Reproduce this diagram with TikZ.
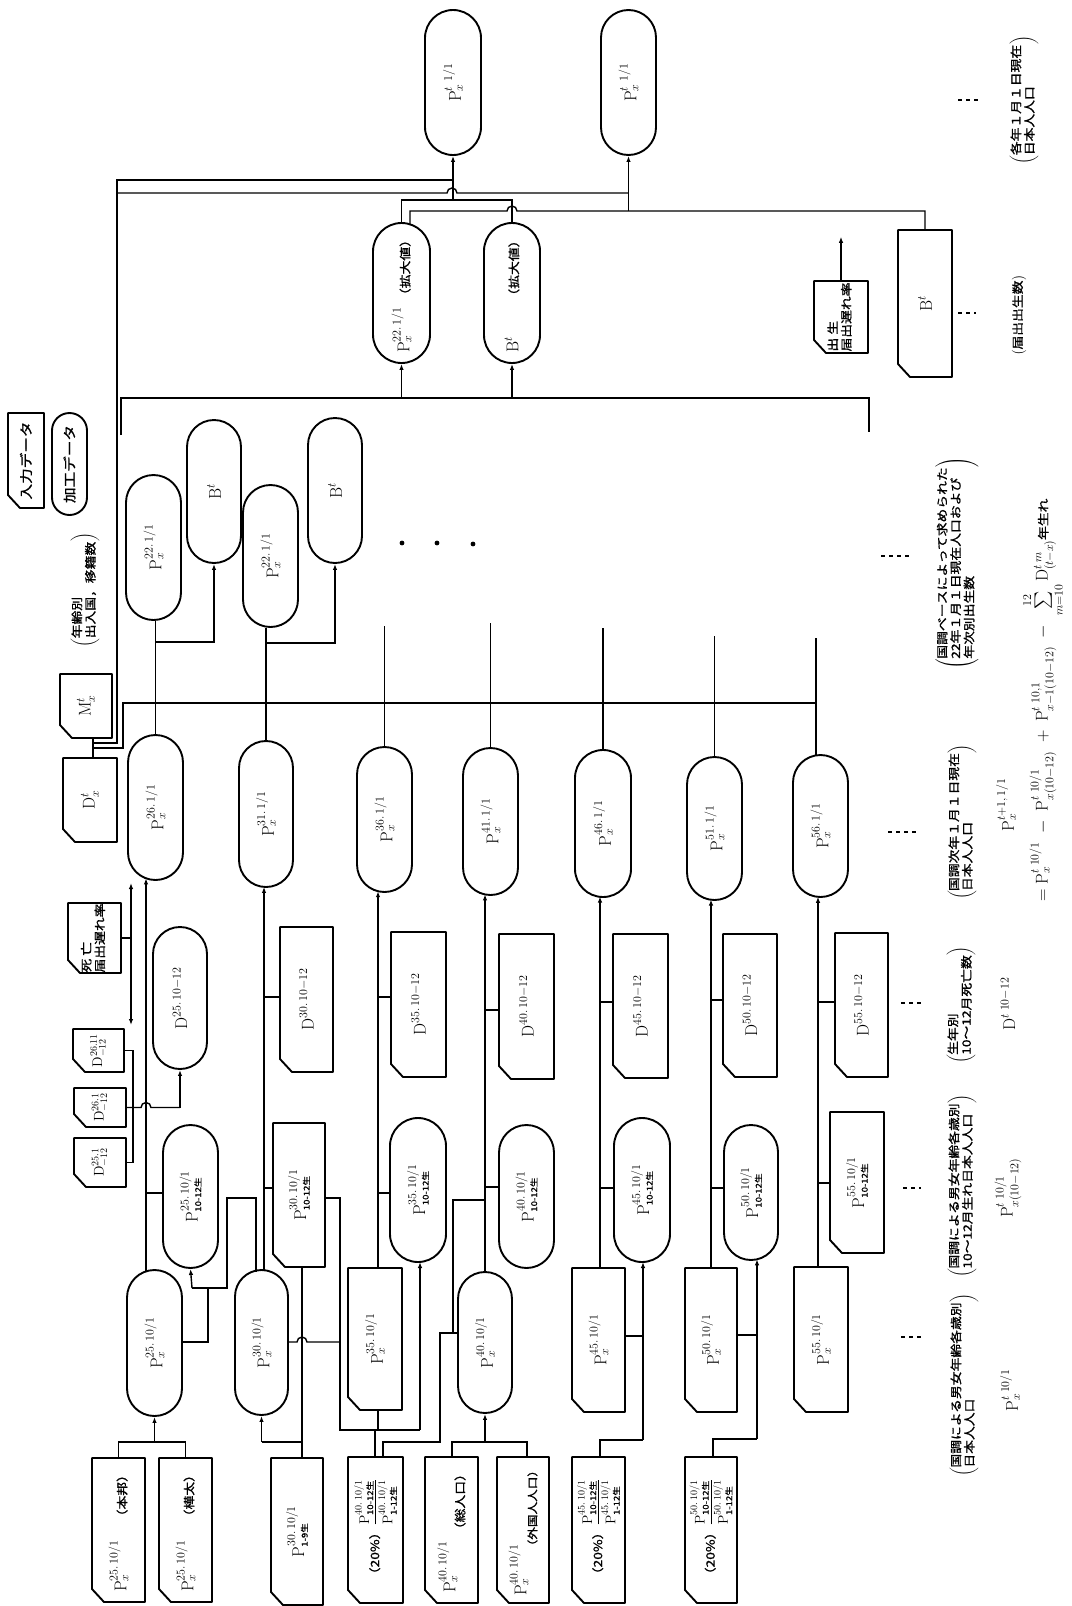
\documentclass[tikz,border=0pt]{standalone}
\usepackage{fontspec}
\usepackage{amsmath}
\usetikzlibrary{shapes.misc,arrows.meta}
\newfontfamily\jp[FakeStretch=1.2,FakeBold=1.2]{Noto Sans CJK JP}
\DeclareMathSizes{17}{17}{11.5}{8.5}
\DeclareMathSizes{14}{14}{10}{7.5}
\newcommand\jt[1]{{\jp\fontsize{11.5}{13}\selectfont #1}}
\newcommand\jl[1]{{\jp\fontsize{13}{15}\selectfont #1}}
\newcommand\js[1]{\mbox{\jp\fontsize{8}{9}\selectfont #1}}
\newcommand\capfont{\jp\fontsize{11.5}{12.5}\selectfont}
\newcommand\inbox[6]{%
  \node[minimum width={(#5-#3)*1pt}, minimum height={(#4-#2)*1pt}] (#1) at ({(#2+#4)/2},{(#3+#5)/2}) {#6};
  \draw[shp] (#2,#3) -- (#4,#3) -- (#4,#5) -- ({#2+12},#5) -- (#2,{#5-13}) -- cycle;}
\newcommand\procbox[6]{%
  \node[proc, minimum width={(#5-#3)*1pt}, minimum height={(#4-#2)*1pt}] (#1) at ({(#2+#4)/2},{(#3+#5)/2}) {#6};}
\begin{document}
\begin{tikzpicture}[x=1pt,y=-1pt,
  every node/.style={rotate=90, inner sep=0pt, font=\fontsize{17}{19}\selectfont},
  shp/.style={line width=1.9pt, line join=round},
  proc/.style={draw, rounded rectangle, line width=1.9pt},
  lin/.style={line width=1.4pt},
  arr/.style={line width=1.4pt, -{Latex[length=6pt,width=4.5pt]}},
  darr/.style={line width=1.4pt, {Latex[length=6pt,width=4.5pt]}-{Latex[length=6pt,width=4.5pt]}},
  dsh/.style={line width=1.5pt, dash pattern=on 4pt off 4pt},
]
\useasboundingbox (0,0) rectangle (1071,1606);

% ---------- legend ----------
\inbox{legin}{8}{413}{44}{508}{\jl{入力データ}}
\procbox{legproc}{52}{413}{87}{515}{\jl{加工データ}}

% ---------- top ----------
\procbox{ptopa}{425}{10}{481}{155}{P$^{t\;\,1/1}_{x}$}
\procbox{ptopb}{601}{10}{656}{155}{P$^{t\;\,1/1}_{x}$}
\procbox{pkx}{373}{223}{430}{363}{P$^{22.\,1/1}_{x}$\ \jt{（拡大値）}}
\procbox{bkx}{484}{223}{540}{363}{B$^{t}$\qquad\jt{（拡大値）}}
\inbox{blate}{814}{281}{868}{353}{\jp\fontsize{11.5}{13}\selectfont\begin{tabular}{@{}l@{}}出\ 生\\届出遅れ率\end{tabular}}
\inbox{bin}{898}{230}{952}{377}{B$^{t}$}

% ---------- left top ----------
\inbox{mt}{60}{674}{112}{738}{M$^{t}_{x}$}
\inbox{dt}{63}{758}{117}{842}{D$^{t}_{x}$}
\node (capmig) at (85,590) {\capfont$\left(\begin{tabular}{@{}l@{}}年齢別\\出入国，移籍数\end{tabular}\right)$};
\procbox{pa}{126}{475}{181}{620}{P$^{22.\,1/1}_{x}$}
\procbox{ba}{187}{420}{241}{563}{B$^{t}$}
\procbox{pc}{243}{485}{298}{627}{P$^{22.\,1/1}_{x}$}
\procbox{bc}{308}{418}{362}{563}{B$^{t}$}

% ---------- P t+1 row ----------
\procbox{pn25}{128}{735}{183}{880}{P$^{26.\,1/1}_{x}$}
\procbox{pn30}{239}{741}{293}{887}{P$^{31.\,1/1}_{x}$}
\procbox{pn35}{357}{747}{412}{892}{P$^{36.\,1/1}_{x}$}
\procbox{pn40}{463}{748}{518}{895}{P$^{41.\,1/1}_{x}$}
\procbox{pn45}{575}{750}{631}{897}{P$^{46.\,1/1}_{x}$}
\procbox{pn50}{687}{757}{742}{900}{P$^{51.\,1/1}_{x}$}
\procbox{pn55}{793}{755}{848}{897}{P$^{56.\,1/1}_{x}$}

% ---------- D row ----------
\inbox{dlate}{68}{903}{121}{973}{\jp\fontsize{11.5}{13}\selectfont\begin{tabular}{@{}l@{}}死\ 亡\\届出遅れ率\end{tabular}}
\procbox{d25}{153}{927}{207}{1069}{D$^{25.\,10-12}$}
\inbox{d30}{280}{927}{333}{1072}{D$^{30.\,10-12}$}
\inbox{d35}{391}{932}{446}{1077}{D$^{35.\,10-12}$}
\inbox{d40}{499}{934}{554}{1079}{D$^{40.\,10-12}$}
\inbox{d45}{613}{934}{668}{1078}{D$^{45.\,10-12}$}
\inbox{d50}{723}{934}{777}{1077}{D$^{50.\,10-12}$}
\inbox{d55}{835}{933}{888}{1077}{D$^{55.\,10-12}$}
\inbox{dda}{74}{1138}{126}{1187}{\fontsize{14}{15}\selectfont D$^{25.1}_{-12}$}
\inbox{ddb}{74}{1088}{126}{1127}{\fontsize{14}{15}\selectfont D$^{26.1}_{-12}$}
\inbox{ddc}{73}{1029}{124}{1072}{\fontsize{14}{15}\selectfont D$^{26.11}_{-12}$}

% ---------- 10-12 row ----------
\procbox{p25b}{163}{1125}{218}{1268}{P$^{25.\,10/1}_{\js{10-12生}}$}
\inbox{p30b}{273}{1123}{325}{1267}{P$^{30.\,10/1}_{\js{10-12生}}$}
\procbox{p35b}{390}{1118}{446}{1262}{P$^{35.\,10/1}_{\js{10-12生}}$}
\procbox{p40b}{499}{1125}{554}{1268}{P$^{40.\,10/1}_{\js{10-12生}}$}
\procbox{p45b}{614}{1118}{670}{1262}{P$^{45.\,10/1}_{\js{10-12生}}$}
\procbox{p50b}{724}{1125}{778}{1260}{P$^{50.\,10/1}_{\js{10-12生}}$}
\inbox{p55b}{830}{1112}{884}{1253}{P$^{55.\,10/1}_{\js{10-12生}}$}

% ---------- 10/1 row ----------
\procbox{p25}{127}{1270}{182}{1416}{P$^{25.\,10/1}_{x}$}
\procbox{p30}{235}{1270}{288}{1415}{P$^{30.\,10/1}_{x}$}
\inbox{p35}{348}{1268}{402}{1410}{P$^{35.\,10/1}_{x}$}
\procbox{p40}{458}{1272}{512}{1413}{P$^{40.\,10/1}_{x}$}
\inbox{p45}{572}{1268}{625}{1412}{P$^{45.\,10/1}_{x}$}
\inbox{p50}{685}{1268}{737}{1412}{P$^{50.\,10/1}_{x}$}
\inbox{p55}{794}{1267}{848}{1412}{P$^{55.\,10/1}_{x}$}

% ---------- bottom inputs ----------
\inbox{ina}{92}{1458}{145}{1602}{P$^{25.\,10/1}_{x}$\quad\jt{（本邦）}}
\inbox{inb}{159}{1458}{212}{1602}{P$^{25.\,10/1}_{x}$\quad\jt{（樺太）}}
\inbox{inc}{271}{1458}{323}{1605}{P$^{30.\,10/1}_{\js{1-9生}}$}
\inbox{fra}{348}{1457}{403}{1603}{\fontsize{14}{15}\selectfont\jt{（20\%）}$\dfrac{\mathrm{P}^{40.\,10/1}_{\js{10-12生}}}{\mathrm{P}^{40.\,10/1}_{\js{1-12生}}}$}
\inbox{ind}{425}{1457}{478}{1603}{P$^{40.\,10/1}_{x}$\ \raisebox{-9pt}{\jt{（総人口）}}}
\inbox{ine}{497}{1457}{549}{1603}{P$^{40.\,10/1}_{x}$\hspace{-8pt}\raisebox{-10pt}{\jp\fontsize{10.5}{12}\selectfont（外国人人口）}}
\inbox{frb}{572}{1457}{625}{1603}{\fontsize{14}{15}\selectfont\jt{（20\%）}$\dfrac{\mathrm{P}^{45.\,10/1}_{\js{10-12生}}}{\mathrm{P}^{45.\,10/1}_{\js{1-12生}}}$}
\inbox{frc}{685}{1457}{737}{1603}{\fontsize{14}{15}\selectfont\jt{（20\%）}$\dfrac{\mathrm{P}^{50.\,10/1}_{\js{10-12生}}}{\mathrm{P}^{50.\,10/1}_{\js{1-12生}}}$}

% ---------- captions ----------
\node (c1) at (1024,100) {\capfont$\left(\begin{tabular}{@{}l@{}}各年１月１日現在\\日本人人口\end{tabular}\right)$};
\node (c2) at (1019,315) {\capfont$\left(\begin{tabular}{@{}l@{}}届出出生数\end{tabular}\right)$};
\node (c3) at (957,563) {\capfont$\left(\begin{tabular}{@{}l@{}}国調ベースによって求められた\\22年１月１日現在人口および\\年次別出生数\end{tabular}\right)$};
\node (c4) at (962,822) {\capfont$\left(\begin{tabular}{@{}l@{}}国調次年１月１日現在\\日本人人口\end{tabular}\right)$};
\node (c5) at (961,1005) {\capfont$\left(\begin{tabular}{@{}l@{}}生年別\\10〜12月死亡数\end{tabular}\right)$};
\node (c6) at (962,1186) {\capfont$\left(\begin{tabular}{@{}l@{}}国調による男女年齢各歳別\\10〜12月生れ日本人人口\end{tabular}\right)$};
\node (c7) at (964,1385) {\capfont$\left(\begin{tabular}{@{}l@{}}国調による男女年齢各歳別\\日本人人口\end{tabular}\right)$};
\node (f1) at (1006,805) {P$^{t+1,\,1/1}_{x}$};
\node (f2) at (1043,700) {$=\mathrm{P}^{t\;10/1}_{x}\;-\;\mathrm{P}^{t\;10/1}_{x(10-12)}\;+\;\mathrm{P}^{t\;10,1}_{x-1(10-12)}\;-\;\sum\limits_{m=10}^{12}\mathrm{D}^{t\;m}_{(t-x)}$\jt{年生れ}};
\node (f3) at (1008,1004) {D$^{t\;10-12}$};
\node (f4) at (1008,1188) {P$^{t\;10/1}_{x(10-12)}$};
\node (f5) at (1010,1390) {P$^{t\;10/1}_{x}$};

\draw[dsh] (958,100) -- (978,100);
\draw[dsh] (958,313) -- (976,313);
\draw[dsh] (881,556) -- (911,556);
\draw[dsh] (888,832) -- (918,832);
\draw[dsh] (901,1003) -- (921,1003);
\draw[dsh] (903,1188) -- (921,1188);
\draw[dsh] (901,1337) -- (921,1337);

% ---------- connectors: top ----------
\draw[lin] (93,758) -- (93,738);
\draw[lin] (93,748) -- (123,748) -- (123,703) -- (816,703);
\draw[lin] (93,743) -- (117,743) -- (117,180) -- (ptopa.west |- 0,180);
\draw[lin] (117,193) -- (447,193) arc[start angle=180,end angle=360,radius=5] -- (ptopb.west |- 0,193);
\draw[arr] (ptopa.west |- 0,200) -- (ptopa.west);
\draw[lin] (pkx.east) -- (pkx.east |- 0,200) -- (bkx.east |- 0,200) -- (bkx.east);
\draw[arr] (ptopb.west |- 0,211) -- (ptopb.west);
\draw[lin] (410,224.3) -- (410,211) -- (507,211) arc[start angle=180,end angle=360,radius=5] -- (bin.east |- 0,211) -- (bin.east);
\draw[lin] (121,435) -- (121,398) -- (869,398) -- (869,432);
\draw[arr] (pkx.west |- 0,398) -- (pkx.west);
\draw[arr] (bkx.west |- 0,398) -- (bkx.west);
\draw[arr] (blate.east) -- ++(0,-44);

\draw[lin] (pn25.east) -- (pn25.east |- pa.west);
\draw[arr] (pn25.east |- 0,642) -- (ba.west |- 0,642) -- (ba.west);
\draw[lin] (pn30.east) -- (pn30.east |- pc.west);
\draw[arr] (pn30.east |- 0,643) -- (bc.west |- 0,643) -- (bc.west);
\draw[lin] (pn35.east) -- ++(0,-120);
\draw[lin] (pn40.east) -- ++(0,-124);
\draw[lin] (pn45.east) -- ++(0,-121);
\draw[lin] (pn50.east) -- ++(0,-120);
\draw[lin] (816,756) -- (816,638);
\fill (402,543) circle (2.4);
\fill (437,543) circle (2.4);
\fill (473,544) circle (2.4);

% ---------- column 25 ----------
\draw[lin] (dlate.south) -- (131,938);
\draw[darr] (131,883) -- (131,1025);
\draw[lin] (ddc.south) -- (133,1050.5) -- (133,1162.5) -- (dda.south);
\draw[lin] (ddb.south) -- (141,1107.5) arc[start angle=180,end angle=360,radius=5] -- (180,1107.5);
\draw[arr] (180,1107.5) -- (d25.west);
\draw[arr] (146,1271.3) -- (146,878.4);
\draw[lin] (146,1193) -- (163,1193);
\draw[lin] (182,1342) -- (208,1342) -- (208,1288);
\draw[arr] (192,1288) -- (p25b.west);
\draw[lin] (192,1288) -- (227,1288) -- (227,1198) -- (256,1198) -- (256,1271.5);
\draw[lin] (ina.east) -- (ina.east |- 0,1442) -- (inb.east |- 0,1442) -- (inb.east);
\draw[arr] (p25.west |- 0,1442) -- (p25.west);

% ---------- column 30 ----------
\draw[arr] (264,1270.5) -- (264,886.9);
\draw[lin] (264,997) -- (280,997);
\draw[lin] (264,1188) -- (273,1188);
\draw[lin] (325,1198) -- (340,1198) -- (340,1430) -- (420,1430);
\draw[arr] (420,1430) -- (420,1262);
\draw[lin] (288,1342) -- (297,1342) arc[start angle=180,end angle=360,radius=5] -- (340,1342);
\draw[lin] (302,1458) -- (302,1267);
\draw[lin] (302,1442) -- (p30.west |- 0,1442);
\draw[arr] (p30.west |- 0,1442) -- (p30.west);

% ---------- column 35 ----------
\draw[arr] (378,1268) -- (378,891.2);
\draw[lin] (378,997) -- (391,997);
\draw[lin] (378,1193) -- (390,1193);
\draw[lin] (378,1410) -- (378,1430);
\draw[lin] (375,1457) -- (375,1430);
\draw[lin] (383,1457) -- (383,1442) -- (440,1442) -- (440,1333) -- (458,1333);
\draw[lin] (453,1333) -- (453,1200) -- (485,1200);

% ---------- column 40 ----------
\draw[arr] (485,1272) -- (485,894.4);
\draw[lin] (485,1010) -- (499,1010);
\draw[lin] (485,1187) -- (499,1187);
\draw[lin] (452,1457) -- (452,1442) -- (527,1442) -- (527,1457);
\draw[arr] (p40.west |- 0,1442) -- (p40.west);

% ---------- column 45 ----------
\draw[arr] (600,1268) -- (600,896.5);
\draw[lin] (600,1002) -- (613,1002);
\draw[lin] (600,1188) -- (614,1188);
\draw[lin] (625,1336) -- (643,1336);
\draw[lin] (600,1457) -- (600,1440) -- (643,1440);
\draw[arr] (643,1440) -- (643,1262);

% ---------- column 50 ----------
\draw[arr] (711,1268) -- (711,899.5);
\draw[lin] (711,1000) -- (723,1000);
\draw[lin] (711,1188) -- (724,1188);
\draw[lin] (737,1335) -- (757,1335);
\draw[lin] (713,1457) -- (713,1439) -- (757,1439);
\draw[arr] (757,1439) -- (757,1259.3);

% ---------- column 55 ----------
\draw[arr] (818,1267) -- (818,896.8);
\draw[lin] (818,1002) -- (835,1002);
\draw[lin] (818,1183) -- (830,1183);
\end{tikzpicture}
\end{document}
